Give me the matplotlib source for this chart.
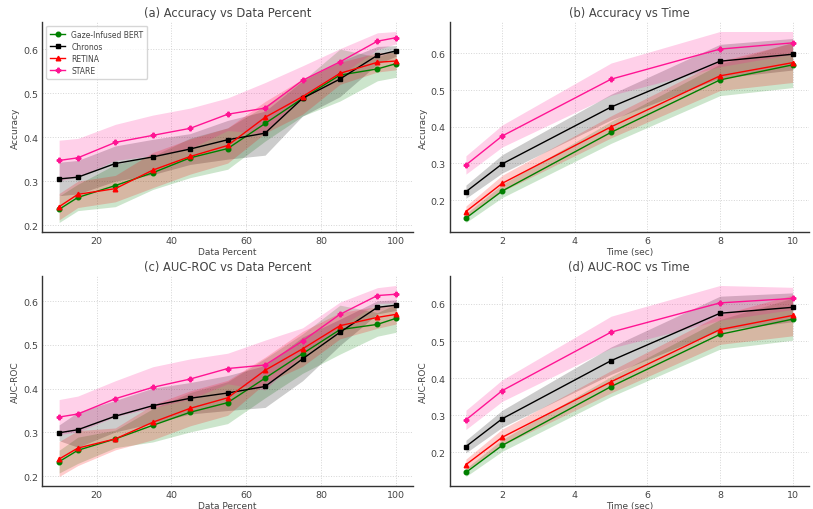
import matplotlib
matplotlib.use("Agg")
import matplotlib.pyplot as plt
import numpy as np

data_pct = [10, 15, 25, 35, 45, 55, 65, 75, 85, 95, 100]
time_sec = [1, 2, 5, 8, 10]
models = ["Gaze-Infused BERT", "Chronos", "RETINA", "STARE"]
colors = ["green", "black", "red", "deeppink"]
markers = ["o", "s", "^", "P"]

# (a) Accuracy vs Data Percent
acc_pct = {
    "Gaze-Infused BERT": [0.236, 0.263, 0.290, 0.319, 0.353, 0.374, 0.431, 0.488, 0.541, 0.555, 0.567],
    "Chronos":           [0.305, 0.309, 0.340, 0.355, 0.373, 0.394, 0.409, 0.488, 0.532, 0.586, 0.596],
    "RETINA":            [0.242, 0.270, 0.283, 0.325, 0.356, 0.381, 0.445, 0.492, 0.545, 0.570, 0.573],
    "STARE":             [0.347, 0.353, 0.388, 0.404, 0.420, 0.452, 0.466, 0.529, 0.571, 0.618, 0.626],
}
acc_pct_std = {
    "Gaze-Infused BERT": [0.030, 0.030, 0.048, 0.038, 0.045, 0.047, 0.040, 0.040, 0.059, 0.027, 0.031],
    "Chronos":           [0.038, 0.038, 0.040, 0.040, 0.035, 0.044, 0.050, 0.040, 0.040, 0.020, 0.012],
    "RETINA":            [0.030, 0.030, 0.030, 0.040, 0.040, 0.040, 0.036, 0.040, 0.025, 0.022, 0.020],
    "STARE":             [0.046, 0.044, 0.041, 0.046, 0.046, 0.037, 0.058, 0.033, 0.030, 0.019, 0.014],
}
# (b) Accuracy vs Time
acc_time = {
    "Gaze-Infused BERT": [0.151, 0.225, 0.385, 0.528, 0.569],
    "Chronos":           [0.223, 0.299, 0.454, 0.579, 0.598],
    "RETINA":            [0.169, 0.246, 0.400, 0.539, 0.575],
    "STARE":             [0.296, 0.375, 0.530, 0.612, 0.629],
}
acc_time_std = {
    "Gaze-Infused BERT": [0.012, 0.018, 0.030, 0.043, 0.062],
    "Chronos":           [0.018, 0.025, 0.035, 0.046, 0.043],
    "RETINA":            [0.015, 0.022, 0.030, 0.040, 0.054],
    "STARE":             [0.025, 0.030, 0.044, 0.048, 0.031],
}
# (c) AUC-ROC vs Data Percent
auc_pct = {
    "Gaze-Infused BERT": [0.233, 0.259, 0.285, 0.316, 0.346, 0.368, 0.424, 0.480, 0.535, 0.547, 0.561],
    "Chronos":           [0.299, 0.306, 0.337, 0.361, 0.378, 0.390, 0.405, 0.468, 0.529, 0.586, 0.591],
    "RETINA":            [0.239, 0.264, 0.285, 0.323, 0.355, 0.379, 0.442, 0.491, 0.544, 0.563, 0.570],
    "STARE":             [0.335, 0.342, 0.377, 0.403, 0.422, 0.446, 0.454, 0.509, 0.570, 0.613, 0.616],
}
auc_pct_std = {
    "Gaze-Infused BERT": [0.026, 0.030, 0.020, 0.038, 0.045, 0.048, 0.045, 0.045, 0.056, 0.027, 0.032],
    "Chronos":           [0.018, 0.040, 0.036, 0.040, 0.036, 0.040, 0.048, 0.050, 0.030, 0.015, 0.012],
    "RETINA":            [0.040, 0.040, 0.025, 0.040, 0.040, 0.040, 0.030, 0.040, 0.030, 0.025, 0.022],
    "STARE":             [0.040, 0.041, 0.041, 0.047, 0.046, 0.035, 0.057, 0.030, 0.028, 0.018, 0.020],
}
# (d) AUC-ROC vs Time
auc_time = {
    "Gaze-Infused BERT": [0.145, 0.218, 0.377, 0.518, 0.559],
    "Chronos":           [0.215, 0.290, 0.447, 0.575, 0.591],
    "RETINA":            [0.166, 0.240, 0.390, 0.531, 0.569],
    "STARE":             [0.287, 0.366, 0.524, 0.603, 0.615],
}
auc_time_std = {
    "Gaze-Infused BERT": [0.011, 0.016, 0.027, 0.040, 0.057],
    "Chronos":           [0.017, 0.023, 0.037, 0.046, 0.039],
    "RETINA":            [0.015, 0.022, 0.030, 0.040, 0.055],
    "STARE":             [0.026, 0.029, 0.043, 0.047, 0.030],
}

text_color = "#444444"
plt.rcParams.update({
    "font.family": "DejaVu Sans",
    "text.color": text_color,
    "axes.labelcolor": text_color,
    "xtick.color": text_color,
    "ytick.color": text_color,
})

fig = plt.figure(figsize=(8.13, 5.10), dpi=100)
positions = [
    [0.052, 0.543, 0.456, 0.412],
    [0.553, 0.543, 0.442, 0.412],
    [0.052, 0.045, 0.456, 0.412],
    [0.553, 0.045, 0.442, 0.412],
]
panels = [
    ("(a) Accuracy vs Data Percent", data_pct, acc_pct, acc_pct_std, "Data Percent", "Accuracy"),
    ("(b) Accuracy vs Time", time_sec, acc_time, acc_time_std, "Time (sec)", "Accuracy"),
    ("(c) AUC-ROC vs Data Percent", data_pct, auc_pct, auc_pct_std, "Data Percent", "AUC-ROC"),
    ("(d) AUC-ROC vs Time", time_sec, auc_time, auc_time_std, "Time (sec)", "AUC-ROC"),
]

for i, (title, xs, means, stds, xl, yl) in enumerate(panels):
    ax = fig.add_axes(positions[i])
    x = np.array(xs)
    for m, c, mk in zip(models, colors, markers):
        y = np.array(means[m])
        s = np.array(stds[m])
        ax.plot(x, y, color=c, marker=mk, markersize=3.3, linewidth=1.0, label=m)
        ax.fill_between(x, y - s, y + s, color=c, alpha=0.2, linewidth=0)
    ax.set_title(title, fontsize=8.3, color=text_color, pad=4)
    ax.set_xlabel(xl, fontsize=6.5, labelpad=1)
    ax.set_ylabel(yl, fontsize=6.5, labelpad=2)
    ax.tick_params(axis="both", length=0, labelsize=6.8, pad=3)
    ax.grid(True, linestyle=":", color="#d5d5d5", linewidth=0.7)
    ax.set_axisbelow(True)
    for sp in ["top", "right"]:
        ax.spines[sp].set_visible(False)
    for sp in ["left", "bottom"]:
        ax.spines[sp].set_color("#333333")
        ax.spines[sp].set_linewidth(1.0)
    ax.set_yticks([0.2, 0.3, 0.4, 0.5, 0.6])
    if i == 0:
        ax.legend(loc="upper left", fontsize=5.5, frameon=True, handlelength=2,
                  borderpad=0.5, labelspacing=0.4)

fig.savefig("out.png", dpi=100)
